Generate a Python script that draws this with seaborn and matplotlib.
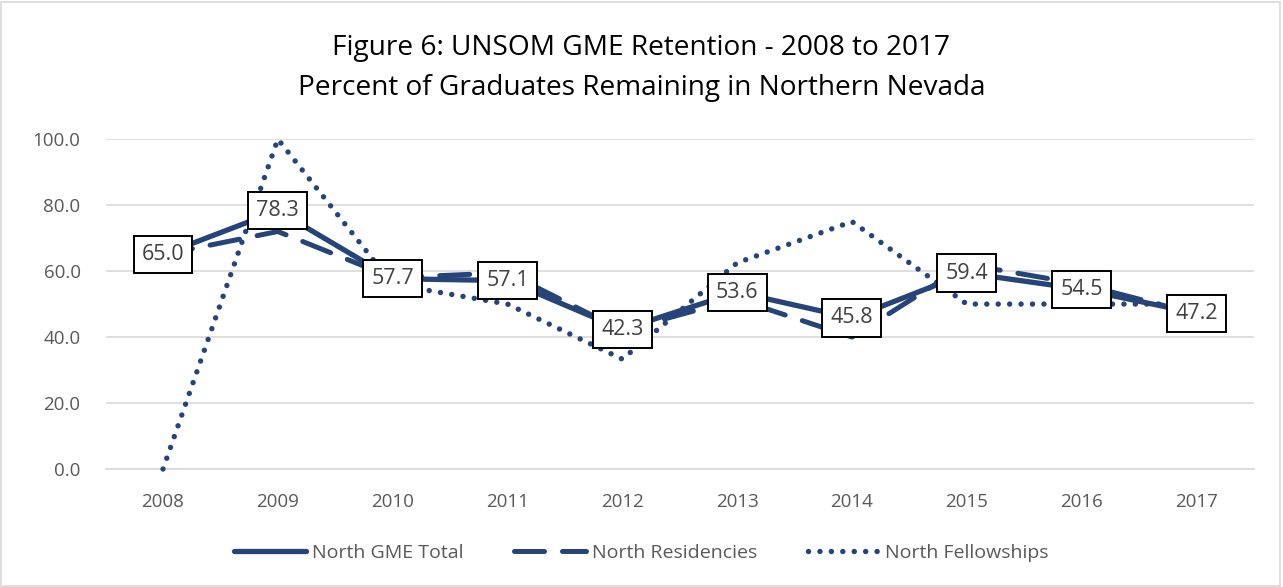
import pandas as pd
import numpy as np
import matplotlib.pyplot as plt
import seaborn as sns
from matplotlib.patches import Rectangle

# Chart data
years = ['2008', '2009', '2010', '2011', '2012', '2013', '2014', '2015', '2016', '2017']
gme_total = [65.0, 78.3, 57.7, 57.1, 42.3, 53.6, 45.8, 59.4, 54.5, 47.2]
residencies = [65.0, 72.0, 58.0, 59.5, 42.0, 51.5, 40.0, 62.0, 56.0, 47.0]
fellowships = [0.0, 100.0, 56.0, 50.0, 33.3, 62.5, 75.0, 50.0, 50.0, 50.0]
series_names = ['North GME Total', 'North Residencies', 'North Fellowships']
y_ticks = [0, 20, 40, 60, 80, 100]

df = pd.DataFrame({'Year': years * 3,
                   'Value': gme_total + residencies + fellowships,
                   'Series': np.repeat(series_names, len(years))})
df['x'] = df.groupby('Series').cumcount()

sns.set_theme(style="white")
plt.rcParams['font.family'] = ['Open Sans', 'DejaVu Sans']

line_color = '#264478'
fig = plt.figure(figsize=(12.83, 5.87), dpi=100)
ax = fig.add_axes([0.0823, 0.201, 0.895, 0.562])

styles = {
    'North Fellowships': dict(linestyle=(0, (0.01, 2.1)), dash_capstyle='round', linewidth=3.9),
    'North Residencies': dict(linestyle=(0, (6.0, 3.6)), dash_capstyle='round', linewidth=3.6),
    'North GME Total': dict(linestyle='-', linewidth=3.8, solid_joinstyle='round'),
}
for name in ['North Fellowships', 'North Residencies', 'North GME Total']:
    sub = df[df['Series'] == name]
    sns.lineplot(data=sub, x='x', y='Value', ax=ax, color=line_color,
                 label=name, zorder=3, **styles[name])

# Data labels for the total
for i, v in enumerate(gme_total):
    ax.text(i, v, f'{v:.1f}', ha='center', va='center', fontsize=15.5,
            color='#404040', zorder=5,
            bbox=dict(boxstyle='square,pad=0.38', facecolor='white',
                      edgecolor='black', linewidth=1.4))

ax.set_xlim(-0.5, len(years) - 0.5)
ax.set_ylim(0, 100)
ax.set_xticks(range(len(years)))
ax.set_xticklabels(years)
ax.set_yticks(y_ticks)
ax.set_yticklabels([f'{t:.1f}' for t in y_ticks])
ax.tick_params(axis='both', labelsize=13.5, colors='#595959', length=0)
ax.tick_params(axis='x', pad=17)
ax.tick_params(axis='y', pad=18)
ax.yaxis.grid(True, color='#d9d9d9', linewidth=1.2)
ax.set_axisbelow(True)
for s in ['top', 'right', 'left']:
    ax.spines[s].set_visible(False)
ax.spines['bottom'].set_color('#d9d9d9')
ax.spines['bottom'].set_linewidth(1.2)
ax.set_xlabel('')
ax.set_ylabel('')
for ln in ax.lines:
    ln.set_clip_on(False)

# Legend at bottom, in the original order
h, l = ax.get_legend_handles_labels()
order = [l.index(n) for n in series_names]
ax.legend_.remove()
fig.legend([h[i] for i in order], series_names, loc='center', ncol=3,
           bbox_to_anchor=(0.5, 0.058), frameon=False, fontsize=14,
           handlelength=3.7, columnspacing=2.6, handletextpad=0.3,
           labelcolor='#595959')

fig.text(0.5, 0.918, 'Figure 6: UNSOM GME Retention - 2008 to 2017',
         ha='center', va='center', fontsize=20.2, color='black')
fig.text(0.5, 0.85, 'Percent of Graduates Remaining in Northern Nevada',
         ha='center', va='center', fontsize=20.2, color='black')

fig.patches.append(Rectangle((0.001, 0.002), 0.997, 0.995, transform=fig.transFigure,
                             fill=False, edgecolor='#d9d9d9', linewidth=1.2))

fig.savefig('out.png', dpi=100)
